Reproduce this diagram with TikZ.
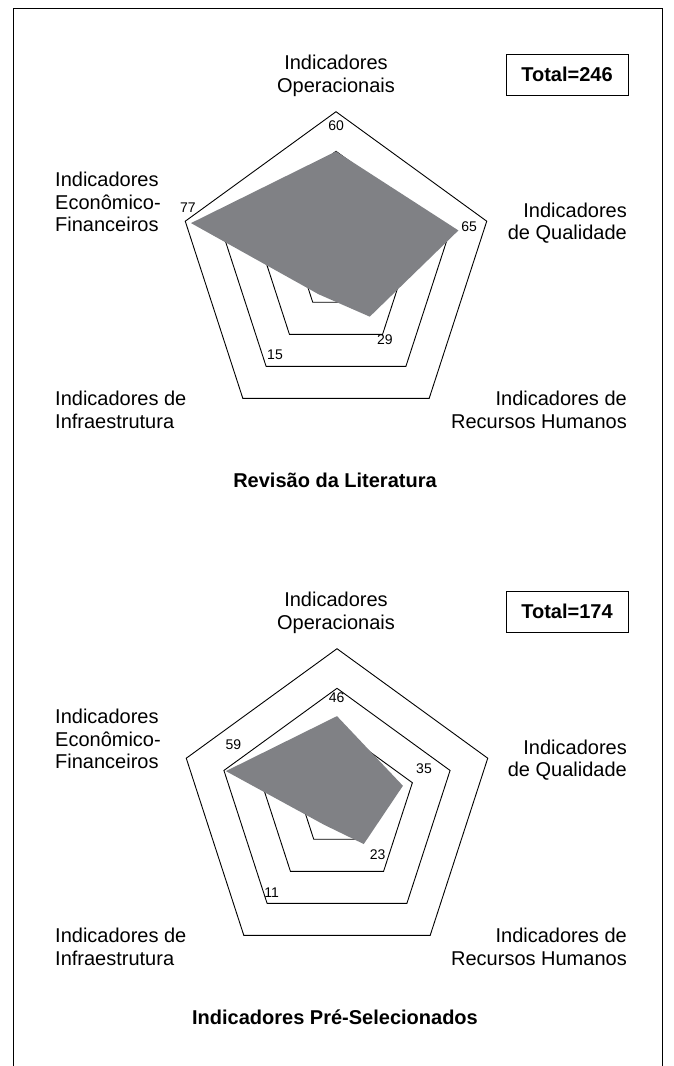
\documentclass[tikz,border=0pt]{standalone}
\usepackage{fontspec}
\setmainfont{Liberation Sans}
\definecolor{fillgray}{RGB}{128,129,133}
\begin{document}
\begin{tikzpicture}[x=1pt,y=-1pt,
  frame/.style={draw=black,line width=1pt},
  ring/.style={draw=black,line width=0.9pt},
  datafill/.style={fill=fillgray},
  lab/.style={font=\fontsize{20}{22.5}\selectfont,inner sep=0pt},
  num/.style={font=\fontsize{14}{16}\selectfont,inner sep=0pt},
  ttl/.style={font=\fontsize{20}{22}\selectfont\bfseries,inner sep=0pt},
  tot/.style={draw=black,line width=1pt,minimum width=122pt,minimum height=41pt,inner sep=0pt,font=\fontsize{20}{22}\selectfont\bfseries}]
\useasboundingbox (0,0) rectangle (673,1066);
\draw[frame] (13,1066) -- (13,8) -- (662,8) -- (662,1066);

% ---------- chart 1 ----------
\coordinate (c1) at (336,270.2);
\begin{scope}[shift={(c1)}]
  \foreach \R in {39.6,79.25,118.9,158.5}
    \draw[ring] (-90:\R) -- (-18:\R) -- (54:\R) -- (126:\R) -- (198:\R) -- cycle;
  \fill[datafill] (-90:{60*1.98}) -- (-18:{65*1.98}) -- (54:{29*1.98}) -- (126:{15*1.98}) -- (198:{77*1.98}) -- cycle;
\end{scope}
\node[num] (a60) at (336.2,125.3) {60};
\node[num] (a65) at (469.2,226.2) {65};
\node[num] (a77) at (188,208) {77};
\node[num] (a29) at (384.8,339.2) {29};
\node[num] (a15) at (275,354.7) {15};
\node[lab,align=center] (aop) at (336,75.9) {Indicadores\\Operacionais};
\node[lab,align=right,anchor=east] (aqu) at (627,223) {Indicadores\\de Qualidade};
\node[lab,align=left,anchor=west] (aec) at (55,202) {Indicadores\\Econômico-\\Financeiros};
\node[lab,align=left,anchor=west] (ain) at (55,410) {Indicadores de\\Infraestrutura};
\node[lab,align=right,anchor=east] (arh) at (627,410) {Indicadores de\\Recursos Humanos};
\node[tot] (atot) at (567,74.7) {Total=246};
\node[ttl,anchor=base] (atit) at (335,487) {Revisão da Literatura};

% ---------- chart 2 ----------
\coordinate (c2) at (337,807.2);
\begin{scope}[shift={(c2)}]
  \foreach \R in {39.6,79.25,118.9,158.5}
    \draw[ring] (-90:\R) -- (-18:\R) -- (54:\R) -- (126:\R) -- (198:\R) -- cycle;
  \fill[datafill] (-90:{46*1.98}) -- (-18:{35*1.98}) -- (54:{23*1.98}) -- (126:{11*1.98}) -- (198:{59*1.98}) -- cycle;
\end{scope}
\node[num] (b46) at (336.7,697.5) {46};
\node[num] (b59) at (233.3,745) {59};
\node[num] (b35) at (424,768.3) {35};
\node[num] (b23) at (377.7,854.3) {23};
\node[num] (b11) at (271.7,892.3) {11};
\node[lab,align=center] (bop) at (336,612.9) {Indicadores\\Operacionais};
\node[lab,align=right,anchor=east] (bqu) at (627,760) {Indicadores\\de Qualidade};
\node[lab,align=left,anchor=west] (bec) at (55,739) {Indicadores\\Econômico-\\Financeiros};
\node[lab,align=left,anchor=west] (bin) at (55,947) {Indicadores de\\Infraestrutura};
\node[lab,align=right,anchor=east] (brh) at (627,947) {Indicadores de\\Recursos Humanos};
\node[tot] (btot) at (567,611.7) {Total=174};
\node[ttl,anchor=base] (btit) at (335,1024) {Indicadores Pré-Selecionados};
\end{tikzpicture}
\end{document}
